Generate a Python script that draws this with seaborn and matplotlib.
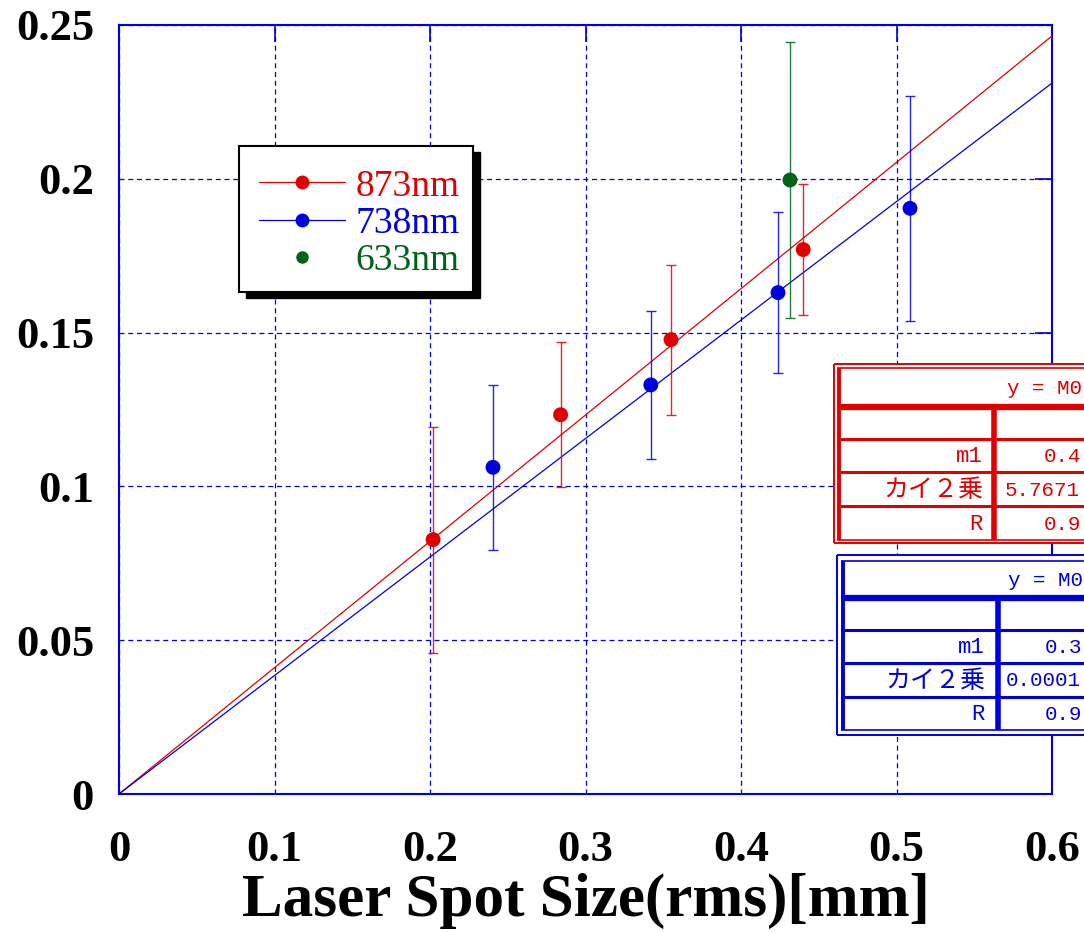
import numpy as np
import pandas as pd
import matplotlib
matplotlib.use("Agg")
import matplotlib.pyplot as plt
import seaborn as sns
from matplotlib.lines import Line2D
from matplotlib.patches import Rectangle
from matplotlib.transforms import Affine2D

# ---------------- DATA ----------------

red_x = [0.202, 0.284, 0.355, 0.440]
red_y = [0.0827, 0.1233, 0.1477, 0.1770]
red_err = [0.0367, 0.0236, 0.0244, 0.0212]

blue_x = [0.2405, 0.342, 0.4238, 0.5087]
blue_y = [0.1062, 0.1330, 0.1630, 0.1904]
blue_err = [0.0268, 0.0240, 0.0262, 0.0366]

green_x = [0.4315]
green_y = [0.1996]
green_err = [0.0449]

red_slope = 0.4107
blue_slope = 0.3852

series_names = ["873nm", "738nm", "633nm"]
# fit tables run off the right edge of the page, only the visible part is kept
table_head = "y = M0"
red_table = ["0.4", "5.7671", "0.9"]
blue_table = ["0.3", "0.0001", "0.9"]
table_rows = ["m1", "カイ２乗", "R"]

x_ticks = [0, 0.1, 0.2, 0.3, 0.4, 0.5, 0.6]
y_ticks = [0, 0.05, 0.1, 0.15, 0.2, 0.25]
x_ticklabels = ["0", "0.1", "0.2", "0.3", "0.4", "0.5", "0.6"]
y_ticklabels = ["0", "0.05", "0.1", "0.15", "0.2", "0.25"]

RED = "#e00000"
BLUE = "#0000dd"
GREEN = "#006418"
colors = {"873nm": RED, "738nm": BLUE, "633nm": GREEN}

points = pd.DataFrame({
    "x": red_x + blue_x + green_x,
    "y": red_y + blue_y + green_y,
    "err": red_err + blue_err + green_err,
    "series": ["873nm"] * len(red_x) + ["738nm"] * len(blue_x) + ["633nm"] * len(green_x),
})

xs = np.array([0, 0.6])
fits = pd.DataFrame({
    "x": np.concatenate([xs, xs]),
    "y": np.concatenate([red_slope * xs, blue_slope * xs]),
    "series": ["873nm"] * 2 + ["738nm"] * 2,
})

# ---------------- FIGURE ----------------

sns.set_style("white")
plt.rcParams["font.family"] = ["Liberation Serif", "DejaVu Serif"]
plt.rcParams["text.color"] = "black"
plt.rcParams["axes.labelcolor"] = "black"

W, H = 1084, 932
fig = plt.figure(figsize=(W / 100, H / 100), dpi=100)
ax = fig.add_axes([119 / W, 1 - 794 / H, (1052 - 119) / W, (794 - 25) / H])
px = Affine2D().scale(1 / W, -1 / H).translate(0, 1) + fig.transFigure

# fit lines
sns.lineplot(data=fits, x="x", y="y", hue="series", palette=colors,
             linewidth=0.9, legend=False, ax=ax, zorder=3)

# error bars
for name, sub in points.groupby("series"):
    ax.errorbar(sub["x"], sub["y"], yerr=sub["err"], fmt="none",
                ecolor=colors[name], elinewidth=1.0, capsize=3.8, capthick=1.0,
                alpha=0.85, zorder=4)

# points
sns.scatterplot(data=points, x="x", y="y", hue="series", palette=colors,
                s=115, edgecolor="none", legend=False, ax=ax, zorder=5)

ax.set_xlim(0, 0.6)
ax.set_ylim(0, 0.25)
ax.set_xticks(x_ticks)
ax.set_yticks(y_ticks)
ax.set_xticklabels(x_ticklabels, fontsize=32, fontweight="bold")
ax.set_yticklabels(y_ticklabels, fontsize=32, fontweight="bold")
ax.tick_params(axis="both", direction="in", length=12, color=BLUE, width=1.2,
               labelcolor="black", top=True, right=True, left=False, bottom=False)
ax.tick_params(axis="y", pad=18)
ax.tick_params(axis="x", pad=26)
ax.set_xlabel("Laser Spot Size(rms)[mm]", fontsize=44, fontweight="bold",
              labelpad=2, color="black")
ax.set_ylabel("")

ax.grid(True, color=BLUE, linestyle=(0, (4, 3)), linewidth=0.9)
for sp in ax.spines.values():
    sp.set_color(BLUE)
    sp.set_linewidth(1.5)
    sp.set_visible(True)

# ---------------- LEGEND ----------------

fig.add_artist(Rectangle((246, 152), 234, 146, transform=px, facecolor="black",
                         edgecolor="black", zorder=6))
fig.add_artist(Rectangle((239, 146), 234, 146, transform=px, facecolor="white",
                         edgecolor="black", linewidth=1.5, zorder=7))

handles = [
    Line2D([], [], color=RED, linewidth=0.9, marker="o", markersize=10, markeredgecolor="none"),
    Line2D([], [], color=BLUE, linewidth=0.9, marker="o", markersize=10, markeredgecolor="none"),
    Line2D([], [], color=GREEN, linestyle="none", marker="o", markersize=9, markeredgecolor="none"),
]
leg = fig.legend(handles, series_names, loc="upper left",
                 bbox_to_anchor=(259 / W, 1 - 169 / H), frameon=False,
                 fontsize=27, handlelength=2.3, handletextpad=0.27,
                 labelspacing=0.08, borderpad=0, borderaxespad=0)
leg.set_zorder(8)
for txt, name in zip(leg.get_texts(), series_names):
    txt.set_color(colors[name])

# ---------------- FIT TABLES ----------------

mono = ["Liberation Mono", "Noto Sans CJK JP"]


def hline(y, x0, x1, color, lw):
    fig.add_artist(Line2D([x0, x1], [y, y], transform=px, color=color, linewidth=lw,
                          solid_capstyle="butt", zorder=9))


def vline(x, y0, y1, color, lw):
    fig.add_artist(Line2D([x, x], [y0, y1], transform=px, color=color, linewidth=lw,
                          solid_capstyle="butt", zorder=9))


def draw_table(color, left, top, bottom, inner_left, inner_top, inner_bottom,
               head_y, row_lines, divider, label_x, value_xs, values):
    right = 1100
    fig.add_artist(Rectangle((left, top), right - left, bottom - top, transform=px,
                             facecolor="white", edgecolor="none", zorder=8))
    hline(top, left, right, color, 1.4)
    hline(bottom, left, right, color, 1.4)
    vline(left, top, bottom, color, 1.4)
    hline(inner_top, inner_left, right, color, 1.2)
    hline(inner_bottom, inner_left, right, color, 1.2)
    vline(inner_left + 2, inner_top, inner_bottom, color, 2.8)
    hline(head_y, inner_left, right, color, 4.5)
    for y in row_lines:
        hline(y, inner_left, right, color, 2.2)
    vline(divider, head_y, inner_bottom, color, 4.0)
    fig.text(value_xs[1] + 2, (inner_top + head_y) / 2 + 1, table_head, transform=px,
             color=color, family=mono, fontsize=15, ha="left", va="center", zorder=10)
    ys = [row_lines[0], row_lines[1], row_lines[2], inner_bottom]
    for i in range(3):
        yc = (ys[i] + ys[i + 1]) / 2 + 1
        fs = 18 if i == 1 else 16
        fig.text(label_x, yc, table_rows[i], transform=px, color=color, family=mono,
                 fontsize=fs, ha="right", va="center", zorder=10)
        fig.text(value_xs[i], yc, values[i], transform=px, color=color, family=mono,
                 fontsize=15, ha="left", va="center", zorder=10)


draw_table(RED, 834, 364, 543, 837, 368, 540, 407, [439, 472, 506], 994,
           983, [1044, 1005, 1044], red_table)
draw_table(BLUE, 837, 555, 735, 841, 561, 730, 598, [630, 663, 697], 998,
           985, [1045, 1006, 1045], blue_table)

fig.savefig("out.png", dpi=100)
